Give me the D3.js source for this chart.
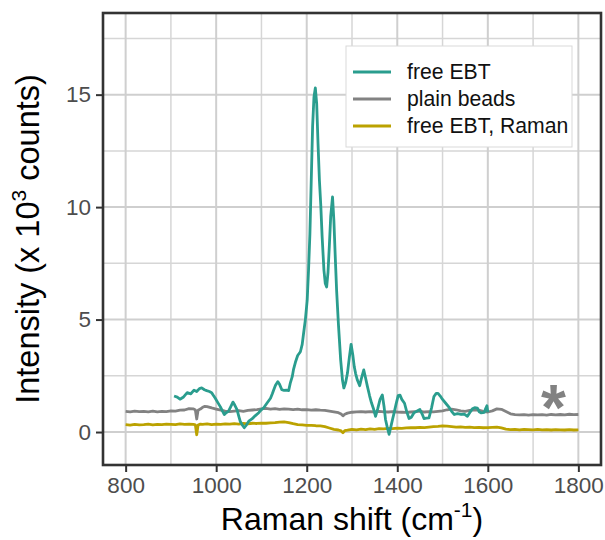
<!DOCTYPE html>
<html>
<head>
<meta charset="utf-8">
<script src="https://cdn.jsdelivr.net/npm/d3@7"></script>
<style>
  html, body { margin: 0; padding: 0; background: #fff; }
  svg { display: block; font-family: "Liberation Sans", Arial, Helvetica, sans-serif; }
</style>
</head>
<body>
<svg id="chart" width="605" height="540"></svg>
<script>
// Raman shift axis ticks (cm^-1) and intensity ticks (x 10^3 counts)
const xTicks = [800, 1000, 1200, 1400, 1600, 1800];
const xMinor = [900, 1100, 1300, 1500, 1700];
const yTicks = [0, 5, 10, 15];
const yMinor = [2.5, 7.5, 12.5, 17.5];

// Series names and legend order
const seriesNames = ["free EBT", "plain beads", "free EBT, Raman"];
const seriesColors = ["#2a9d8e", "#828282", "#bba200"];

// free EBT (SERS), 907-1600 cm^-1
const ebtShift = [907, 914, 920, 928, 936, 944, 951, 957, 963, 968, 974, 979, 985, 990, 994, 998,
  1003, 1009, 1014, 1018, 1022, 1027, 1032, 1037, 1041, 1046, 1050, 1053, 1058, 1062, 1067, 1072,
  1079, 1086, 1094, 1100, 1105, 1112, 1120, 1124, 1127, 1131, 1136, 1140, 1145, 1150, 1155, 1160,
  1164, 1168, 1171, 1175, 1180, 1186, 1190, 1193, 1197, 1201, 1204, 1207, 1210, 1213, 1216, 1219,
  1222, 1225, 1228, 1231, 1234, 1238, 1241, 1244, 1247, 1250, 1253, 1257, 1260, 1263, 1266, 1270,
  1275, 1279, 1282, 1286, 1290, 1294, 1298, 1302, 1305, 1308, 1312, 1317, 1321, 1326, 1330, 1334,
  1339, 1343, 1348, 1352, 1357, 1362, 1367, 1371, 1374, 1378, 1382, 1386, 1390, 1393, 1398, 1402,
  1406, 1410, 1416, 1421, 1426, 1431, 1437, 1443, 1450, 1455, 1459, 1464, 1470, 1476, 1481, 1486,
  1490, 1495, 1500, 1507, 1515, 1520, 1526, 1533, 1541, 1548, 1555, 1560, 1566, 1571, 1577, 1581,
  1585, 1589, 1592, 1595, 1598, 1600];
const ebtIntensity = [1.60, 1.55, 1.46, 1.56, 1.75, 1.70, 1.86, 1.80, 1.93, 1.96, 1.88, 1.84, 1.80, 1.75, 1.62, 1.50,
  1.33, 1.13, 0.93, 0.78, 0.86, 0.92, 1.12, 1.33, 1.20, 1.00, 0.70, 0.48, 0.30, 0.19, 0.32, 0.48,
  0.58, 0.72, 0.86, 1.00, 1.08, 1.28, 1.50, 1.70, 1.87, 2.08, 2.24, 2.12, 1.88, 1.85, 1.86, 1.84,
  2.20, 2.46, 2.80, 3.10, 3.40, 3.57, 3.90, 4.38, 5.00, 5.85, 7.20, 8.80, 11.20, 13.60, 14.90, 15.30,
  14.60, 12.80, 11.20, 10.10, 8.70, 7.20, 6.60, 6.45, 7.10, 8.30, 9.60, 10.45, 9.40, 7.80, 6.30, 4.80,
  3.20, 2.30, 1.96, 2.20, 2.62, 3.30, 3.90, 3.40, 2.90, 2.60, 2.30, 2.06, 2.40, 2.76, 2.40, 2.03,
  1.60, 1.30, 1.00, 0.70, 1.05, 1.45, 1.65, 1.10, 0.56, 0.20, -0.10, 0.25, 0.60, 0.85, 1.30, 1.62,
  1.64, 1.45, 1.28, 0.90, 0.60, 0.66, 0.86, 0.92, 1.00, 0.80, 0.60, 0.62, 0.63, 1.10, 1.58, 1.72,
  1.72, 1.60, 1.45, 1.28, 1.08, 0.92, 0.78, 0.82, 0.78, 0.80, 0.70, 0.86, 1.03, 1.08, 1.06, 0.90,
  0.85, 0.86, 0.87, 1.03, 1.17, 0.88];

// plain beads background, 800-1800 cm^-1
const beadsShift = [800, 810, 820, 830, 840, 850, 860, 870, 880, 890, 900, 910, 920, 930, 940, 950, 954, 957, 960,
  965, 970, 975, 980, 990, 1000, 1010, 1020, 1030, 1040, 1050, 1060, 1070, 1080, 1090, 1100, 1110,
  1120, 1130, 1140, 1150, 1160, 1170, 1180, 1190, 1200, 1210, 1220, 1230, 1240, 1250, 1260, 1270,
  1276, 1280, 1284, 1290, 1300, 1310, 1320, 1330, 1340, 1350, 1360, 1370, 1380, 1390, 1400, 1410,
  1420, 1430, 1440, 1450, 1460, 1470, 1480, 1490, 1500, 1510, 1520, 1530, 1540, 1550, 1560, 1570,
  1580, 1590, 1600, 1610, 1620, 1630, 1640, 1650, 1660, 1670, 1680, 1690, 1700, 1710, 1720, 1730,
  1740, 1750, 1760, 1770, 1780, 1790, 1800];
const beadsIntensity = [0.92, 0.90, 0.93, 0.91, 0.92, 0.90, 0.93, 0.90, 0.92, 0.91, 0.94, 0.93, 0.97, 0.98, 1.04, 1.03, 0.98, 0.58, 0.97,
  1.02, 1.10, 1.14, 1.13, 1.07, 1.02, 0.97, 0.93, 0.91, 0.93, 0.95, 0.92, 0.96, 0.98, 1.00, 1.03, 1.05,
  1.02, 1.04, 1.01, 1.03, 1.02, 1.00, 1.02, 0.99, 1.00, 0.97, 0.99, 0.97, 0.96, 0.93, 0.90, 0.86,
  0.80, 0.72, 0.79, 0.84, 0.88, 0.90, 0.91, 0.89, 0.91, 0.89, 0.92, 0.90, 0.89, 0.91, 0.89, 0.88,
  0.87, 0.89, 0.91, 0.93, 0.89, 0.91, 0.90, 0.92, 0.94, 0.99, 1.02, 0.99, 0.94, 0.92, 0.96, 0.99,
  0.97, 0.92, 0.89, 0.94, 1.03, 1.01, 0.91, 0.81, 0.77, 0.76, 0.77, 0.75, 0.77, 0.76, 0.77, 0.75,
  0.78, 0.76, 0.78, 0.76, 0.79, 0.77, 0.78];

// free EBT measured as normal Raman, 800-1800 cm^-1
const ramanShift = [800, 810, 820, 830, 840, 850, 860, 870, 880, 890, 900, 910, 920, 930, 940, 950, 954, 957, 960,
  965, 970, 980, 990, 1000, 1010, 1020, 1030, 1040, 1050, 1060, 1070, 1080, 1090, 1100, 1110,
  1120, 1130, 1140, 1150, 1160, 1170, 1180, 1190, 1200, 1210, 1220, 1230, 1240, 1250, 1260, 1270,
  1276, 1280, 1284, 1290, 1300, 1310, 1320, 1330, 1340, 1350, 1360, 1370, 1380, 1390, 1400, 1410,
  1420, 1430, 1440, 1450, 1460, 1470, 1480, 1490, 1500, 1510, 1520, 1530, 1540, 1550, 1560, 1570,
  1580, 1590, 1600, 1610, 1620, 1630, 1640, 1650, 1660, 1670, 1680, 1690, 1700, 1710, 1720, 1730,
  1740, 1750, 1760, 1770, 1780, 1790, 1800];
const ramanIntensity = [0.33, 0.31, 0.34, 0.32, 0.33, 0.35, 0.32, 0.34, 0.33, 0.35, 0.34, 0.33, 0.36, 0.34, 0.35, 0.34, 0.32, -0.12, 0.31,
  0.35, 0.34, 0.36, 0.33, 0.35, 0.34, 0.36, 0.35, 0.37, 0.35, 0.38, 0.36, 0.39, 0.38, 0.40, 0.39,
  0.41, 0.42, 0.44, 0.45, 0.42, 0.37, 0.33, 0.32, 0.30, 0.30, 0.28, 0.27, 0.24, 0.18, 0.12, 0.09,
  0.05, -0.03, 0.06, 0.08, 0.12, 0.10, 0.13, 0.11, 0.14, 0.12, 0.15, 0.14, 0.16, 0.15, 0.17, 0.16,
  0.18, 0.20, 0.19, 0.21, 0.20, 0.22, 0.24, 0.25, 0.27, 0.26, 0.24, 0.22, 0.23, 0.21, 0.22, 0.20,
  0.21, 0.19, 0.20, 0.21, 0.22, 0.18, 0.13, 0.11, 0.12, 0.10, 0.12, 0.11, 0.10, 0.12, 0.10, 0.11,
  0.09, 0.11, 0.10, 0.09, 0.11, 0.09, 0.10];

// Panel geometry
const W = 605, H = 540;
const panel = { left: 103, right: 601, top: 13, bottom: 465 };

const svg = d3.select("#chart");

const x = d3.scaleLinear().domain([750, 1850]).range([panel.left, panel.right]);
const y = d3.scaleLinear().domain([-1.466, 18.63]).range([panel.bottom, panel.top]);

// Background
svg.append("rect")
  .attr("x", panel.left).attr("y", panel.top)
  .attr("width", panel.right - panel.left).attr("height", panel.bottom - panel.top)
  .attr("fill", "#fff");

// Grid lines
const grid = svg.append("g").attr("class", "grid");
grid.selectAll("line.xminor").data(xMinor).join("line")
  .attr("x1", d => x(d)).attr("x2", d => x(d))
  .attr("y1", panel.top).attr("y2", panel.bottom)
  .attr("stroke", "#d6d6d6").attr("stroke-width", 1.5);
grid.selectAll("line.yminor").data(yMinor).join("line")
  .attr("y1", d => y(d)).attr("y2", d => y(d))
  .attr("x1", panel.left).attr("x2", panel.right)
  .attr("stroke", "#d6d6d6").attr("stroke-width", 1.5);
grid.selectAll("line.xmajor").data(xTicks).join("line")
  .attr("x1", d => x(d)).attr("x2", d => x(d))
  .attr("y1", panel.top).attr("y2", panel.bottom)
  .attr("stroke", "#cfcfcf").attr("stroke-width", 2);
grid.selectAll("line.ymajor").data(yTicks).join("line")
  .attr("y1", d => y(d)).attr("y2", d => y(d))
  .attr("x1", panel.left).attr("x2", panel.right)
  .attr("stroke", "#cfcfcf").attr("stroke-width", 2);

// Spectra
const line = d3.line().x(d => x(d[0])).y(d => y(d[1])).curve(d3.curveLinear);
const series = [
  { name: seriesNames[2], color: seriesColors[2], pts: d3.zip(ramanShift, ramanIntensity) },
  { name: seriesNames[1], color: seriesColors[1], pts: d3.zip(beadsShift, beadsIntensity) },
  { name: seriesNames[0], color: seriesColors[0], pts: d3.zip(ebtShift, ebtIntensity) }
];
svg.append("g").selectAll("path").data(series).join("path")
  .attr("d", d => line(d.pts))
  .attr("fill", "none")
  .attr("stroke", d => d.color)
  .attr("stroke-width", 2.8)
  .attr("stroke-linejoin", "round");

// Asterisk marking the bead background band
svg.append("text")
  .attr("x", x(1745)).attr("y", y(1.5) + 32)
  .attr("text-anchor", "middle")
  .attr("font-size", 64).attr("font-weight", "bold")
  .attr("fill", "#828282")
  .text("*");

// Panel border
svg.append("rect")
  .attr("x", panel.left).attr("y", panel.top)
  .attr("width", panel.right - panel.left).attr("height", panel.bottom - panel.top)
  .attr("fill", "none").attr("stroke", "#333").attr("stroke-width", 2.6);

// Axes
const xAxis = d3.axisBottom(x).tickValues(xTicks).tickSize(6).tickPadding(5).tickFormat(d3.format("d"));
const gx = svg.append("g").attr("transform", `translate(0,${panel.bottom + 1})`).call(xAxis);
gx.select(".domain").remove();
gx.selectAll(".tick line").attr("stroke", "#333").attr("stroke-width", 2);
gx.selectAll(".tick text").attr("fill", "#4d4d4d").attr("font-size", 22.5)
  .attr("font-family", "Liberation Sans, Arial, sans-serif");

const yAxis = d3.axisLeft(y).tickValues(yTicks).tickSize(6).tickPadding(5).tickFormat(d3.format("d"));
const gy = svg.append("g").attr("transform", `translate(${panel.left - 1},0)`).call(yAxis);
gy.select(".domain").remove();
gy.selectAll(".tick line").attr("stroke", "#333").attr("stroke-width", 2);
gy.selectAll(".tick text").attr("fill", "#4d4d4d").attr("font-size", 22.5)
  .attr("font-family", "Liberation Sans, Arial, sans-serif");

// Axis titles
const xTitle = svg.append("text")
  .attr("x", (panel.left + panel.right) / 2).attr("y", 530)
  .attr("text-anchor", "middle").attr("font-size", 32).attr("fill", "#000");
xTitle.append("tspan").text("Raman shift (cm");
xTitle.append("tspan").attr("font-size", 21).attr("dy", -13).text("-1");
xTitle.append("tspan").attr("dy", 13).text(")");

const yTitle = svg.append("text")
  .attr("transform", `translate(39,${(panel.top + panel.bottom) / 2}) rotate(-90)`)
  .attr("text-anchor", "middle").attr("font-size", 32.5).attr("fill", "#000");
yTitle.append("tspan").text("Intensity (x 10");
yTitle.append("tspan").attr("font-size", 21).attr("dy", -13).text("3");
yTitle.append("tspan").attr("dy", 13).text(" counts)");

// Legend
const legend = svg.append("g").attr("transform", "translate(346,46)");
legend.append("rect")
  .attr("width", 226).attr("height", 101)
  .attr("fill", "#fff").attr("stroke", "#d9d9d9").attr("stroke-width", 1);
const rows = legend.selectAll("g.row").data(seriesNames).join("g")
  .attr("transform", (d, i) => `translate(0,${26 + i * 27})`);
rows.append("line")
  .attr("x1", 7).attr("x2", 45).attr("y1", 0).attr("y2", 0)
  .attr("stroke", (d, i) => seriesColors[i]).attr("stroke-width", 2.8);
rows.append("text")
  .attr("x", 61).attr("y", 0).attr("dy", "0.35em")
  .attr("font-size", 21.2).attr("fill", "#111")
  .text(d => d);
</script>
</body>
</html>
